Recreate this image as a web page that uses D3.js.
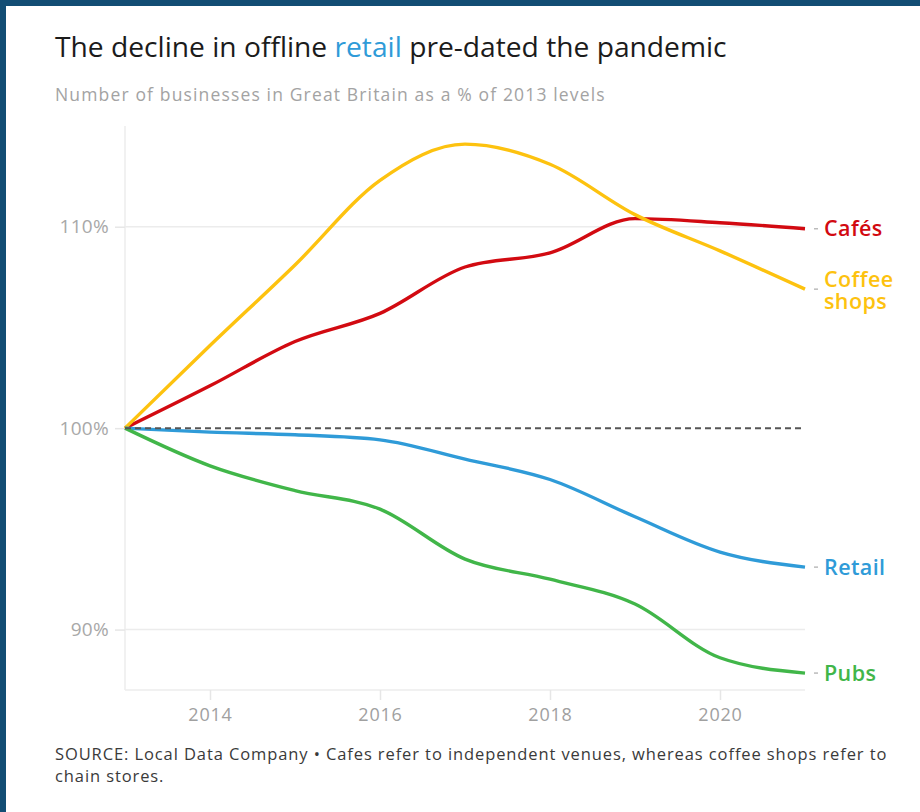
<!DOCTYPE html>
<html>
<head>
<meta charset="utf-8">
<script src="https://cdn.jsdelivr.net/npm/d3@7"></script>
<style>
  html, body { margin: 0; padding: 0; background: #124d74; }
  svg { display: block; }
</style>
</head>
<body>
<svg id="chart" width="920" height="812"></svg>
<script>
// Number of businesses in Great Britain, indexed to 2013 = 100
const years = [2013, 2014, 2015, 2016, 2017, 2018, 2019, 2020, 2021];
const cafes = [100, 102.1, 104.3, 105.7, 108.0, 108.7, 110.4, 110.2, 109.9];
const coffeeShops = [100, 104.1, 108.1, 112.3, 114.1, 113.1, 110.6, 108.8, 106.9];
const retail = [100, 99.8, 99.67, 99.42, 98.46, 97.45, 95.6, 93.85, 93.1];
const pubs = [100, 98.13, 96.9, 95.98, 93.5, 92.5, 91.27, 88.6, 87.84];

const seriesNames = ["Cafés", "Coffee shops", "Retail", "Pubs"];
const seriesLabels = [["Cafés"], ["Coffee", "shops"], ["Retail"], ["Pubs"]];
const seriesValues = [cafes, coffeeShops, retail, pubs];
const seriesColors = ["#d20a11", "#fdc20f", "#2f9bd8", "#41b649"];

const xTicks = [2014, 2016, 2018, 2020];
const yTicks = [90, 100, 110];

const svg = d3.select("#chart");
const font = "'Open Sans', 'Noto Sans', sans-serif";

// white card inside the dark frame
svg.append("rect").attr("x", 6).attr("y", 6).attr("width", 914).attr("height", 806).attr("fill", "#ffffff");

// title
const title = svg.append("text").attr("x", 55).attr("y", 57)
  .attr("font-family", font).attr("font-size", 28.2).attr("font-weight", 500)
  .attr("fill", "#1b1b1b").attr("letter-spacing", 0);
title.append("tspan").text("The decline in offline ");
title.append("tspan").attr("fill", "#2f9bd8").text("retail");
title.append("tspan").text(" pre-dated the pandemic");

svg.append("text").attr("x", 55).attr("y", 101)
  .attr("font-family", font).attr("font-size", 17.5).attr("fill", "#a3a3a3")
  .attr("letter-spacing", 1.15)
  .text("Number of businesses in Great Britain as a % of 2013 levels");

const x = d3.scaleLinear().domain([2013, 2021]).range([125, 805]);
const y = d3.scaleLinear().domain([87, 115]).range([690, 126]);

// gridlines
const g = svg.append("g");
g.selectAll("line.grid").data(yTicks.filter(d => d !== 100)).join("line")
  .attr("x1", x(2013)).attr("x2", x(2021))
  .attr("y1", d => y(d)).attr("y2", d => y(d))
  .attr("stroke", "#ececec").attr("stroke-width", 1.5);

// left and bottom frame lines
g.append("line").attr("x1", x(2013)).attr("x2", x(2013)).attr("y1", y(115)).attr("y2", y(87))
  .attr("stroke", "#ececec").attr("stroke-width", 1.5);
g.append("line").attr("x1", x(2013)).attr("x2", x(2021)).attr("y1", y(87)).attr("y2", y(87))
  .attr("stroke", "#ececec").attr("stroke-width", 1.5);

// y axis
const yAxis = svg.append("g").attr("transform", `translate(${x(2013)},0)`)
  .call(d3.axisLeft(y).tickValues(yTicks).tickFormat(d => d + "%").tickSize(10).tickPadding(6));
yAxis.select(".domain").remove();
yAxis.selectAll(".tick line").attr("stroke", "#e6e6e6").attr("stroke-width", 1.5);
yAxis.selectAll(".tick text").attr("fill", "#a8a8a8").attr("font-family", font)
  .attr("font-size", 19).attr("letter-spacing", 0.3);

// x axis
const xAxis = svg.append("g").attr("transform", `translate(0,${y(87)})`)
  .call(d3.axisBottom(x).tickValues(xTicks).tickFormat(d3.format("d")).tickSize(10).tickPadding(8));
xAxis.select(".domain").remove();
xAxis.selectAll(".tick line").attr("stroke", "#e6e6e6").attr("stroke-width", 1.5);
xAxis.selectAll(".tick text").attr("fill", "#a0a0a0").attr("font-family", font)
  .attr("font-size", 18).attr("letter-spacing", 0.8);

// series lines
const line = d3.line().x((d, i) => x(years[i])).y(d => y(d)).curve(d3.curveMonotoneX);
svg.append("g").selectAll("path").data(seriesValues).join("path")
  .attr("d", d => line(d))
  .attr("fill", "none")
  .attr("stroke", (d, i) => seriesColors[i])
  .attr("stroke-width", 3.4)
  .attr("stroke-linejoin", "round");

// 2013 baseline
svg.append("line").attr("x1", x(2013)).attr("x2", x(2021)).attr("y1", y(100)).attr("y2", y(100))
  .attr("stroke", "#555").attr("stroke-width", 2).attr("stroke-dasharray", "6,4");

// end labels with short leader ticks
const labels = svg.append("g");
seriesValues.forEach((vals, i) => {
  const yy = y(vals[vals.length - 1]);
  labels.append("line").attr("x1", x(2021) + 9).attr("x2", x(2021) + 13)
    .attr("y1", yy).attr("y2", yy).attr("stroke", "#bbb").attr("stroke-width", 1.5);
  const t = labels.append("text").attr("x", x(2021) + 19).attr("y", yy)
    .attr("font-family", font).attr("font-size", 21.5).attr("font-weight", 600)
    .attr("fill", seriesColors[i]).attr("letter-spacing", 0.4);
  const lines = seriesLabels[i];
  lines.forEach((s, k) => {
    t.append("tspan").attr("x", x(2021) + 19)
      .attr("dy", k === 0 ? (lines.length === 1 ? "0.35em" : "-0.12em") : "1.02em")
      .text(s);
  });
});

// footnote
const foot = svg.append("text").attr("font-family", font).attr("font-size", 16.5)
  .attr("fill", "#3a3a3a").attr("letter-spacing", 0.9);
foot.append("tspan").attr("x", 55).attr("y", 760)
  .text("SOURCE: Local Data Company • Cafes refer to independent venues, whereas coffee shops refer to");
foot.append("tspan").attr("x", 55).attr("y", 782).text("chain stores.");
</script>
</body>
</html>
